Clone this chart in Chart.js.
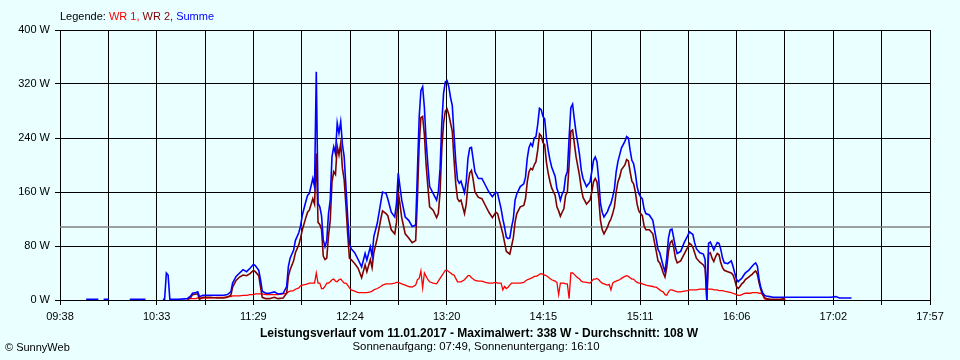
<!DOCTYPE html>
<html><head><meta charset="utf-8">
<script src="https://cdn.jsdelivr.net/npm/chart.js@4.4.1/dist/chart.umd.min.js"></script>
<style>html,body{margin:0;padding:0;background:#eaffff;}canvas{display:block;}</style>
</head><body>
<canvas id="c" width="960" height="360"></canvas>
<script>
const times = ['09:53','09:57','10:00','10:01','10:03','10:06','10:07','10:18','10:22','10:27','10:28','10:37','10:38','10:39','10:40','10:41','10:46',
'10:51','10:53','10:54','10:56','10:57','10:58','11:00','11:04','11:08','11:12','11:14','11:16','11:17','11:19','11:21','11:23','11:25','11:27','11:29','11:30','11:32','11:33','11:34','11:36','11:38','11:41','11:43','11:46','11:48','11:49','11:50','11:52','11:53','11:55','11:56','11:57','11:59',
'12:00','12:01','12:03','12:04','12:05','12:06','12:07','12:08','12:09','12:10','12:11','12:12','12:13','12:14','12:15','12:16','12:17','12:18','12:19','12:20','12:21','12:22','12:23','12:24','12:25','12:27','12:29','12:31','12:33','12:34','12:36','12:37','12:38','12:40','12:42','12:43','12:45','12:46','12:48','12:50','12:51','12:52','12:53','12:54','12:56','12:58',
'13:00','13:02','13:03','13:04','13:05','13:06','13:07','13:08','13:09','13:10','13:12','13:14','13:15','13:16','13:17','13:18','13:19','13:20','13:21','13:22','13:23','13:24','13:25','13:26','13:27','13:28','13:30','13:31','13:32','13:33','13:34','13:35','13:36','13:38','13:40','13:42','13:44','13:46','13:48','13:49','13:51','13:52','13:53','13:54','13:55','13:56','13:57','13:58','13:59',
'14:00','14:02','14:04','14:05','14:06','14:07','14:08','14:09','14:10','14:11','14:12','14:13','14:14','14:15','14:16','14:17','14:18','14:19','14:20','14:22','14:23','14:24','14:25','14:26','14:27','14:28','14:29','14:30','14:31','14:32','14:33','14:34','14:35','14:36','14:37','14:38','14:40','14:42','14:43','14:44','14:45','14:46','14:47','14:48','14:49','14:50','14:52','14:53','14:54','14:55','14:56','14:57','14:58','14:59',
'15:00','15:02','15:03','15:04','15:05','15:06','15:07','15:08','15:09','15:10','15:11','15:12','15:13','15:14','15:16','15:18','15:19','15:20','15:21','15:22','15:23','15:24','15:25','15:26','15:27','15:28','15:29','15:30','15:31','15:32','15:34','15:36','15:38','15:39','15:40','15:41','15:42','15:43','15:45','15:47','15:48','15:49','15:50','15:51','15:52','15:53','15:54','15:55','15:56','15:57','15:58','15:59',
'16:01','16:03','16:04','16:05','16:06','16:07','16:08','16:09','16:10','16:11','16:12','16:13','16:14','16:15','16:16','16:17','16:18','16:19','16:20','16:21','16:22','16:23','16:25','16:27','16:31','16:34','16:35','16:45','16:55','17:00','17:03','17:05','17:12'];

const summe = [1,1,1,null,1,1,null,1,1,1,null,1,1,40,37,1,1,
2,6,10,11,12,5,7,7,7,7,8,12,25,35,40,45,42,47,53,51,44,30,13,10,10,12,9,10,20,50,62,74,88,100,110,126,146,
155,158,180,168,338,143,138,125,89,79,88,128,148,212,227,217,262,247,264,230,212,168,123,84,76,70,60,49,69,59,79,65,94,114,145,160,158,150,130,123,143,188,168,148,123,118,
109,111,190,270,310,316,285,235,200,168,158,148,160,195,262,306,323,325,316,300,288,245,205,178,173,176,159,175,210,225,226,208,190,180,180,170,160,153,160,158,135,120,108,93,91,92,108,120,148,
157,168,172,182,210,226,232,228,240,242,260,284,282,272,268,240,222,208,197,183,165,158,148,157,162,183,190,240,285,290,268,248,232,215,192,180,168,175,190,207,212,205,178,143,130,123,131,138,143,153,165,190,205,215,
225,235,242,240,222,207,202,188,168,158,153,150,135,128,126,118,104,90,75,70,60,50,42,62,92,104,105,92,78,69,72,85,95,101,99,97,85,76,70,68,60,0,84,86,80,74,80,85,84,75,62,55,
54,58,50,40,31,27,30,32,36,40,42,44,47,50,53,55,50,30,18,11,7,6,5,4,4,4,4,4,4,4,5,3,3];

const wr1 = [null,null,null,null,null,null,null,null,null,null,null,null,null,null,null,null,null,
1,2,2,2,3,3,3,3,4,4,5,5,6,6,6,7,7,8,8,9,9,9,9,8,8,8,8,9,10,12,13,14,16,18,21,22,23,
24,25,25,25,40,25,25,17,17,20,25,25,27,30,31,28,27,30,31,28,25,25,22,18,15,13,11,11,11,11,12,13,15,17,20,22,24,24,24,25,26,26,25,24,22,20,
19,22,30,32,43,18,40,35,30,27,25,24,28,32,36,40,44,44,42,40,38,37,32,27,27,27,30,33,36,36,33,31,29,28,28,26,25,25,26,25,25,15,20,17,19,22,25,25,25,
25,25,26,28,30,31,32,33,35,35,36,38,39,38,37,36,34,32,30,28,26,8,25,25,25,24,24,2,40,40,38,35,33,31,28,27,26,25,28,31,31,32,30,27,25,24,22,23,15,25,27,28,29,30,
32,35,36,35,33,31,31,28,26,25,25,24,23,22,21,20,19,19,17,15,13,12,8,7,12,15,15,14,13,12,12,13,14,15,15,15,15,15,16,16,16,16,16,16,16,15,15,15,14,14,14,13,
12,11,10,9,8,7,7,8,9,10,10,10,10,11,11,11,11,10,10,8,2,1,1,0,0,0,null,null,null,null,null,null,null];

const wr2 = [null,null,null,null,null,null,null,null,null,null,null,null,null,null,null,null,null,
1,4,8,9,9,1,4,4,3,3,4,7,19,29,34,37,36,39,44,42,36,20,4,2,2,4,2,3,10,35,45,58,70,82,92,104,122,
130,133,150,142,217,115,112,105,65,60,62,95,118,175,190,186,228,215,232,195,178,140,98,62,60,54,47,33,52,42,60,48,70,92,120,132,128,125,104,98,115,160,142,122,98,92,
85,88,150,230,270,272,245,200,168,138,133,122,128,160,225,262,280,283,275,262,250,208,172,150,146,148,128,142,172,188,192,178,160,152,150,140,130,122,130,128,108,98,85,72,70,68,80,92,115,
128,138,140,150,175,190,195,193,200,205,222,246,243,233,230,204,188,176,166,155,138,132,124,130,135,155,160,200,250,252,232,212,198,184,165,152,142,148,160,175,180,175,150,118,104,98,108,115,120,128,138,160,175,182,
193,200,208,206,190,176,172,160,142,132,128,125,110,104,104,98,85,72,58,55,48,40,34,48,72,85,88,78,62,55,58,68,78,84,82,78,70,62,56,52,47,0,68,70,62,57,64,69,67,55,48,44,
42,40,37,30,20,17,20,24,26,30,32,34,36,38,41,43,38,25,15,8,4,2,1,1,1,2,null,null,null,null,null,null,null];

const tickLabels = ['09:38','10:33','11:29','12:24','13:20','14:15','15:11','16:06','17:02','17:57'];
const average = 108;
const yTickStep = 80;
const yMax = 400;
const seriesNames = ['WR 1','WR 2','Summe'];
const seriesColors = ['#ff0000','#800000','#0000ff'];
const legendTitle = 'Legende:';
const titleText = 'Leistungsverlauf vom 11.01.2017 - Maximalwert: 338 W - Durchschnitt: 108 W';
const subtitleText = 'Sonnenaufgang: 07:49, Sonnenuntergang: 16:10';
const creditText = '\u00A9 SunnyWeb';

function toMin(t){const p=t.split(':').map(Number);return p[0]*60+p[1];}
const t0 = toMin(tickLabels[0]);
const span = toMin(tickLabels[tickLabels.length-1]) - t0;
const nDiv = (tickLabels.length-1)*2;
const pts = arr => times.map((t,i)=>({x:toMin(t)-t0, y:arr[i]}));

const FONT = '"Liberation Sans", Arial, sans-serif';

const bgPlugin = {
  id:'bg',
  beforeDraw(chart){
    const c=chart.ctx; c.save(); c.fillStyle='#eaffff'; c.fillRect(0,0,chart.width,chart.height); c.restore();
  }
};
const textPlugin = {
  id:'texts',
  afterDraw(chart){
    const c=chart.ctx; c.save();
    c.textBaseline='middle';
    c.font='11px '+FONT;
    let x=60; const y=16.5;
    c.fillStyle='#000'; c.textAlign='left';
    c.fillText(legendTitle+' ',x,y); x+=c.measureText(legendTitle+' ').width;
    seriesNames.forEach((n,i)=>{
      const s = n + (i<seriesNames.length-1?', ':'');
      c.fillStyle=seriesColors[i]; c.fillText(s,x,y); x+=c.measureText(s).width;
    });
    c.textAlign='center';
    c.fillStyle='#000';
    c.font='bold 12px '+FONT;
    c.fillText(titleText,479,334);
    c.font='11.4px '+FONT;
    c.fillText(subtitleText,476,347);
    c.textAlign='left';
    c.font='11px '+FONT;
    c.fillText(creditText,5,348);
    c.restore();
  }
};

const datasets = [
  {label:seriesNames[0], data:pts(wr1), borderColor:seriesColors[0], borderWidth:1.3, order:3},
  {label:seriesNames[1], data:pts(wr2), borderColor:seriesColors[1], borderWidth:1.6, order:2},
  {label:seriesNames[2], data:pts(summe), borderColor:seriesColors[2], borderWidth:1.6, order:1},
  {label:'avg', data:[{x:0,y:average},{x:span,y:average}], borderColor:'#808080', borderWidth:1.5, order:4}
];

new Chart(document.getElementById('c'), {
  type:'line',
  data:{datasets},
  plugins:[bgPlugin,textPlugin],
  options:{
    responsive:false, animation:false, devicePixelRatio:1,
    layout:{padding:{left:0,right:30,top:30,bottom:0}},
    elements:{point:{radius:0}, line:{tension:0, fill:false}},
    spanGaps:false,
    plugins:{legend:{display:false}, tooltip:{enabled:false}, title:{display:false}},
    scales:{
      x:{
        type:'linear', min:0, max:span,
        afterBuildTicks(s){ const a=[]; for(let i=0;i<=nDiv;i++) a.push({value:i*span/nDiv}); s.ticks=a; },
        afterFit(s){ s.height=60; },
        grid:{color:'#000', lineWidth:1, tickLength:5, drawTicks:true},
        border:{color:'#000', width:1},
        ticks:{autoSkip:false, maxRotation:0, padding:5, color:'#000', font:{family:FONT,size:11},
          callback:(v,i)=> i%2===0 ? tickLabels[i/2] : ''}
      },
      y:{
        min:0, max:yMax,
        afterFit(s){ s.width=60; },
        grid:{color:'#000', lineWidth:1, tickLength:5},
        border:{color:'#000', width:1},
        ticks:{stepSize:yTickStep, padding:5, color:'#000', font:{family:FONT,size:11},
          callback:v=> v+' W'}
      }
    }
  }
});
</script>
</body></html>
